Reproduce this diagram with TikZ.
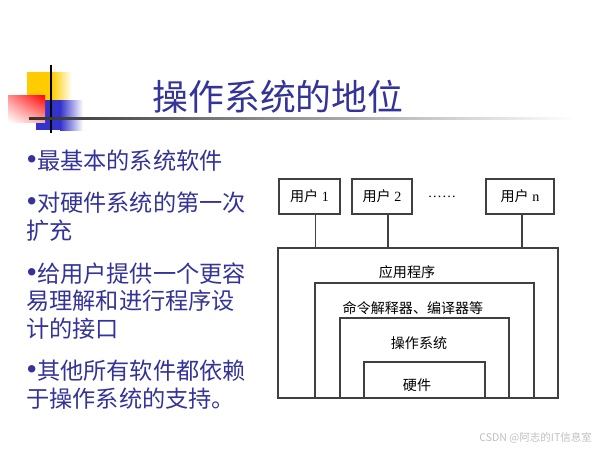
\documentclass[tikz,border=0pt]{standalone}
\usepackage{fontspec}
\setmainfont{Liberation Serif}
\newfontfamily\cjk{Noto Sans CJK SC}
\usetikzlibrary{positioning,shadings}

\definecolor{slideblue}{RGB}{51,51,153}
\definecolor{decoyellow}{RGB}{255,204,0}
\definecolor{decoblue}{RGB}{51,51,204}
\newcommand\bul{{\rmfamily\fontsize{22}{22}\selectfont\textbullet}}

\begin{document}
\begin{tikzpicture}[
    x=0.025cm, y=-0.025cm,
    layer/.style={
        draw=black!75,
        line width=0.8pt,
        inner sep=0pt
    },
    user/.style={
        draw=black!75,
        line width=0.8pt,
        minimum height=0.875cm,
        inner sep=0pt,
        font=\fontsize{10}{12}\selectfont
    },
    layertext/.style={inner sep=0pt, font=\cjk\fontsize{10}{12}\selectfont},
    bullet/.style={
        anchor=west,
        align=left,
        inner sep=0pt,
        text=slideblue,
        font=\cjk\fontsize{16.5}{19.8}\selectfont
    },
    link/.style={draw=black!75, line width=0.8pt}
]
\useasboundingbox (0,0) rectangle (600,450);

% Corner decoration of the slide
\fill[decoyellow] (27,72) rectangle (52,100);
\shade[left color=decoyellow, right color=white] (52,72) rectangle (72,100);
\fill[decoblue] (36,100) rectangle (60,130);
\shade[left color=decoblue, right color=white] (60,100) rectangle (83,130);
\shade[upper right=red, upper left=red!45, lower right=red!35, lower left=white]
    (8,95) rectangle (45,122);
\draw[line width=1.6pt] (51,65) -- (51,133);
\shade[left color=black!80, right color=white] (29,117) rectangle (575,119.5);

% Title
\node[font=\cjk\fontsize{25.5}{30}\selectfont, text=slideblue] (title) at (278,97) {操作系统的地位};

% Bullet points
\node[bullet] (b1) at (26,161) {\bul 最基本的系统软件};
\node[bullet] (b2) at (26,217) {\bul 对硬件系统的第一次\\扩充};
\node[bullet] (b3) at (26,301) {\bul 给用户提供一个更容\\易理解和进行程序设\\计的接口};
\node[bullet] (b4) at (26,385) {\bul 其他所有软件都依赖\\于操作系统的支持。};

% Users
\node[user, minimum width=1.525cm] (u1) at (309.5,196.5) {{\cjk 用户} 1};
\node[user, minimum width=1.5cm]   (u2) at (382,196.5)   {{\cjk 用户} 2};
\node[inner sep=0pt, font=\fontsize{10}{12}\selectfont] (dots) at (442,197) {……};
\node[user, minimum width=1.7cm]   (un) at (520,196.5)   {{\cjk 用户} n};

% Nested layers, all resting on one base line
\node[layer, minimum width=7cm,     minimum height=3.75cm]  (app) at (418,323)   {};
\node[layer, minimum width=5.475cm, minimum height=2.875cm] (cmd) at (424.5,340.5) {};
\node[layer, minimum width=4.225cm, minimum height=2cm]     (os)  at (424.5,358) {};
\node[layer, minimum width=3.025cm, minimum height=0.9cm]   (hw)  at (424.5,380) {};

\node[layertext] (apptext) at (407,272) {应用程序};
\node[layertext] (cmdtext) at (413,308) {命令解释器、编译器等};
\node[layertext] (ostext)  at (419,343) {操作系统};
\node[layertext] (hwtext)  at (417,385) {硬件};

% Users reach the application layer
\draw[link] ([xshift=1.4mm]u1.south) -- ([xshift=1.4mm]u1.south |- app.north);
\draw[link] ([xshift=1.5mm]u2.south) -- ([xshift=1.5mm]u2.south |- app.north);
\draw[link] ([xshift=0.5mm]un.south) -- ([xshift=0.5mm]un.south |- app.north);

% Watermark
\node[anchor=east, text=black!25, font=\cjk\fontsize{7.5}{9}\selectfont] (mark) at (597,438) {CSDN @阿志的IT信息室};

\end{tikzpicture}
\end{document}
